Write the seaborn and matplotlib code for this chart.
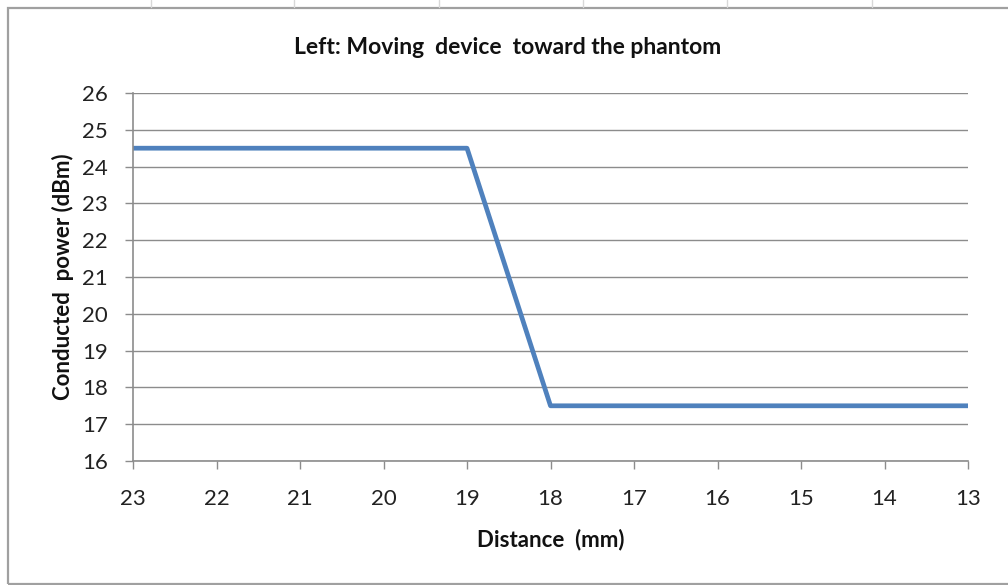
import matplotlib
matplotlib.use("Agg")
import matplotlib.pyplot as plt
from matplotlib.patches import Rectangle
from matplotlib.lines import Line2D
import seaborn as sns
import pandas as pd

distance_mm = [23, 22, 21, 20, 19, 18, 17, 16, 15, 14, 13]
power_dbm = [24.5, 24.5, 24.5, 24.5, 24.5, 17.5, 17.5, 17.5, 17.5, 17.5, 17.5]
y_ticks = list(range(16, 27))

sns.set_theme(style="white")
plt.rcParams["font.family"] = ["Lato", "DejaVu Sans"]

df = pd.DataFrame({"distance": distance_mm, "power": power_dbm})

W, H = 1008, 585
fig = plt.figure(figsize=(W / 100, H / 100), dpi=100)
ax = fig.add_axes([133 / W, 1 - 461 / H, (968 - 133) / W, (461 - 93) / H])

sns.lineplot(data=df, x="distance", y="power", ax=ax, color="#4F81BD", linewidth=3.4)

ax.set_xlim(max(distance_mm), min(distance_mm))
ax.set_ylim(16, 26)
ax.set_xticks(distance_mm)
ax.set_yticks(y_ticks)
ax.yaxis.grid(True, color="#8c8c8c", linewidth=1)
ax.set_axisbelow(True)
for s in ["top", "right"]:
    ax.spines[s].set_visible(False)
for s in ["left", "bottom"]:
    ax.spines[s].set_color("#8c8c8c")
    ax.spines[s].set_linewidth(1.2)
ax.tick_params(axis="both", direction="out", length=6, width=1, color="#8c8c8c",
               labelsize=16, labelcolor="#222222", left=True, bottom=True)
ax.tick_params(axis="x", pad=14)
ax.tick_params(axis="y", pad=12)

ax.set_xlabel("Distance  (mm)", fontsize=16, fontweight="bold", color="#111111", labelpad=14)
ax.set_ylabel("Conducted  power (dBm)", fontsize=16, fontweight="bold", color="#111111", labelpad=6)
fig.text(508 / W, 1 - 47 / H, "Left: Moving  device  toward the phantom", ha="center", va="center",
         fontsize=16.5, fontweight="bold", color="#111111")

# chart frame and faint sheet lines
fig.add_artist(Rectangle((8 / W, 1 - 584 / H), 1.2, (584 - 8) / H, transform=fig.transFigure,
                         fill=False, edgecolor="#a0a0a0", linewidth=1.6))
for xp in [151, 294, 439, 583, 727, 872]:
    fig.add_artist(Line2D([xp / W, xp / W], [1 - 7 / H, 1], transform=fig.transFigure,
                          color="#d8d8d8", linewidth=1))

fig.savefig("out.png", dpi=100)
